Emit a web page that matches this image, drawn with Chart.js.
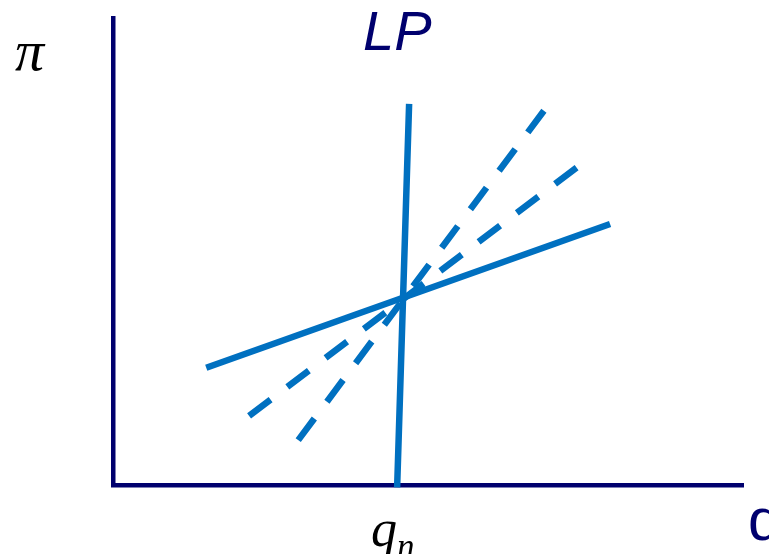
<!DOCTYPE html>
<html>
<head>
<meta charset="utf-8">
<script src="https://cdn.jsdelivr.net/npm/chart.js@4"></script>
<style>
  body { margin: 0; background: #fff; }
  #wrap { position: relative; width: 769px; height: 554px; overflow: hidden; }
  .lbl { position: absolute; white-space: nowrap; line-height: 1; }
  .serif { font-family: "Liberation Serif", "DejaVu Serif", serif; font-style: italic; color: #000; }
  .sans { font-family: "Liberation Sans", Arial, sans-serif; color: #00006e; }
</style>
</head>
<body>
<div id="wrap">
  <canvas id="myChart" width="769" height="554"></canvas>
  <span class="lbl serif" style="left:15px; top:22px; font-size:58px;">π</span>
  <span class="lbl sans" style="left:363px; top:3px; font-size:56px; font-style:italic;">LP</span>
  <span class="lbl serif" style="left:371px; top:503px; font-size:52px;">q<sub style="font-size:35px; vertical-align:-12px;">n</sub></span>
  <span class="lbl sans" style="left:748px; top:490px; font-size:60px;">q</span>
</div>
<script>
// line end points, in axis units (0..10 both ways)
const steepX = [4.51, 4.70];
const steepY = [-0.05, 8.16];
const flatX = [1.48, 7.89];
const flatY = [2.51, 5.59];
const dash1X = [2.16, 7.43];
const dash1Y = [1.48, 6.87];
const dash2X = [2.94, 6.92];
const dash2Y = [0.96, 8.16];

const blue = "#0070c0";
const navy = "#00006e";

function pts(xs, ys){
    let out = [];
    for (let i = 0; i < xs.length; i++) {
        out.push({x: xs[i], y: ys[i]});
    }
    return out;
}

function lineSet(xs, ys, dashed){
    return {
        data: pts(xs, ys),
        showLine: true,
        borderColor: blue,
        borderWidth: 6.5,
        borderDash: dashed ? [27, 21] : [],
        pointRadius: 0,
        clip: false
    }
}

const axisOpts = {
    min: 0,
    max: 10,
    display: true,
    ticks: { display: false },
    grid: { drawOnChartArea: false, drawTicks: false },
    border: { display: true, color: navy, width: 4.5 }
};

const ctx = document.getElementById("myChart");
const chart = new Chart(ctx, {
    type: 'scatter',
    data: {
        datasets: [
            lineSet(dash2X, dash2Y, true),
            lineSet(dash1X, dash1Y, true),
            lineSet(flatX, flatY, false),
            lineSet(steepX, steepY, false)
        ]
    },
    options: {
        responsive: false,
        animation: false,
        layout: { padding: { left: 113, top: 18, right: 26, bottom: 69 } },
        plugins: { legend: { display: false }, tooltip: { enabled: false } },
        scales: {
            x: axisOpts,
            y: axisOpts
        }
    }
});
</script>
</body>
</html>
